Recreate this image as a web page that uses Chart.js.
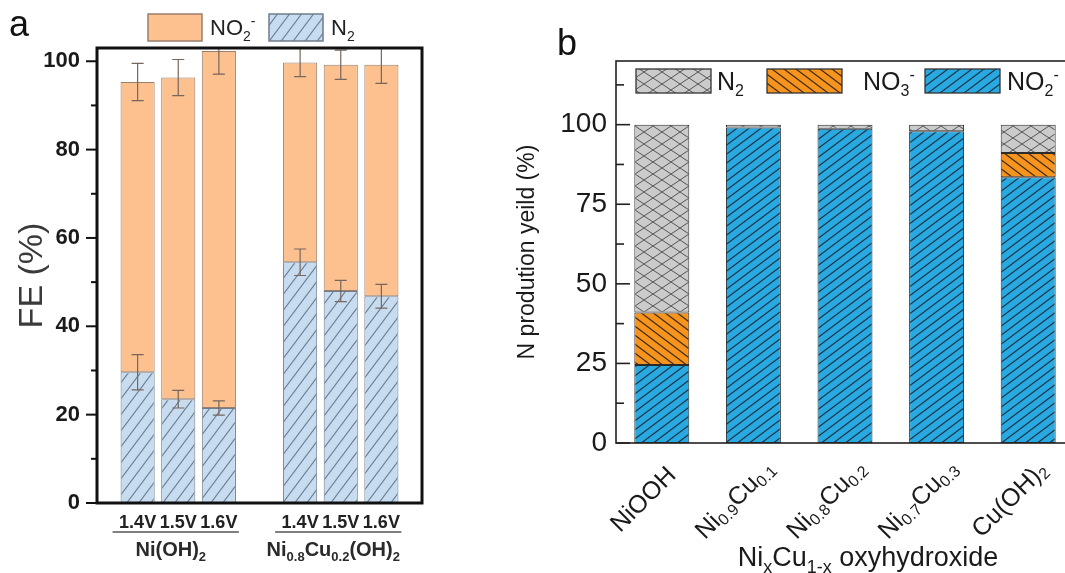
<!DOCTYPE html>
<html>
<head>
<meta charset="utf-8">
<script src="https://cdn.jsdelivr.net/npm/chart.js@4.4.0/dist/chart.umd.min.js"></script>
<style>
  html, body { margin: 0; padding: 0; background: #fff; width: 1065px; height: 573px; overflow: hidden; }
  #wrapA { position: absolute; left: 0; top: 0; width: 500px; height: 573px; }
  #wrapB { position: absolute; left: 500px; top: 0; width: 590px; height: 573px; }
  .panel { position: absolute; font-family: "Liberation Sans", Arial, sans-serif; font-size: 36px; color: #111; line-height: 1; }
</style>
</head>
<body>
<div id="wrapA"><canvas id="chartA" width="500" height="573"></canvas></div>
<div id="wrapB"><canvas id="chartB" width="590" height="573"></canvas></div>
<div class="panel" style="left:9px; top:6px;">a</div>
<div class="panel" style="left:557px; top:25px;">b</div>
<script>
// ---- panel a data (FE %) ----
const aCategories = ['', '1.4V', '1.5V', '1.6V', '', '1.4V', '1.5V', '1.6V', ''];
const aGroupNames = ['Ni(OH){_2}', 'Ni{_0.8}Cu{_0.2}(OH){_2}'];
const aSeries = ['NO{_2}{^-}', 'N{_2}'];
const aN2 = [null, 29.6, 23.5, 21.5, null, 54.5, 48, 46.8, null];
const aN2Err = [null, 4, 2, 1.6, null, 3, 2.4, 2.7, null];
const aNO2 = [null, 65.7, 72.8, 80.8, null, 45.2, 51.2, 52.4, null];
const aTotalErr = [null, 4.2, 4.1, 5.2, null, 3.2, 3.3, 4.2, null];
const aYTicks = [0, 20, 40, 60, 80, 100];

// ---- panel b data (N production yield %) ----
const bCategories = ['NiOOH', 'Ni{_0.9}Cu{_0.1}', 'Ni{_0.8}Cu{_0.2}', 'Ni{_0.7}Cu{_0.3}', 'Cu(OH){_2}'];
const bSeries = ['N{_2}', 'NO{_3}{^-}', 'NO{_2}{^-}'];
const bNO2 = [24.5, 99.1, 98.7, 97.9, 83.5];
const bNO3 = [16.5, 0, 0, 0, 7.6];
const bN2 = [59, 0.9, 1.3, 2.1, 8.9];
const bYTicks = [0, 25, 50, 75, 100];

const FONT = '"Liberation Sans", Arial, sans-serif';
Chart.defaults.font.family = FONT;
Chart.defaults.animation = false;

// hatch fill: dir '/' , '\\' or 'x'
function hatch(bg, line, w, h, dir, lw) {
  const c = document.createElement('canvas');
  c.width = w; c.height = h;
  const g = c.getContext('2d');
  g.fillStyle = bg;
  g.fillRect(0, 0, w, h);
  g.strokeStyle = line;
  g.lineWidth = lw;
  const seg = (x0, y0, x1, y1) => { g.beginPath(); g.moveTo(x0, y0); g.lineTo(x1, y1); g.stroke(); };
  for (const ox of [-w, 0, w]) {
    if (dir === '/' || dir === 'x') seg(ox - w, 2 * h, ox + 2 * w, -h);
    if (dir === '\\' || dir === 'x') seg(ox - w, -h, ox + 2 * w, 2 * h);
  }
  return g.createPattern(c, 'repeat');
}

const aFillNO2 = '#fcc18e';
const aFillN2 = hatch('#c8dcf0', '#6b7e94', 12, 16, '/', 1.1);
const bFillNO2 = hatch('#28a9e1', '#1b3346', 12, 9, '/', 1.2);
const bFillNO3 = hatch('#f7941e', '#3b2a12', 12, 9, '\\', 1.2);
const bFillN2 = hatch('#cbcbcb', '#555555', 18, 12, 'x', 1);

// text with {_sub} and {^sup}
function richParts(s) {
  const out = [];
  const re = /\{([_^])([^}]*)\}|([^{]+)/g;
  let m;
  while ((m = re.exec(s))) out.push(m[3] ? { t: m[3], k: '' } : { t: m[2], k: m[1] });
  return out;
}
function drawRich(ctx, s, x, y, size, weight, align) {
  const parts = richParts(s);
  const fontOf = (p) => `${weight} ${p.k ? Math.round(size * 0.65) : size}px ${FONT}`;
  let total = 0;
  parts.forEach(p => { ctx.font = fontOf(p); total += ctx.measureText(p.t).width; });
  let cx = align === 'center' ? x - total / 2 : x;
  ctx.textAlign = 'left';
  parts.forEach(p => {
    ctx.font = fontOf(p);
    const dy = p.k === '_' ? size * 0.25 : p.k === '^' ? -size * 0.42 : 0;
    ctx.fillText(p.t, cx, y + dy);
    cx += ctx.measureText(p.t).width;
  });
}

function errBar(ctx, px, y, v, e) {
  const y0 = y.getPixelForValue(v - e), y1 = y.getPixelForValue(v + e);
  ctx.beginPath();
  ctx.moveTo(px, y0); ctx.lineTo(px, y1);
  ctx.moveTo(px - 6, y0); ctx.lineTo(px + 6, y0);
  ctx.moveTo(px - 6, y1); ctx.lineTo(px + 6, y1);
  ctx.stroke();
}

const panelA = {
  id: 'panelA',
  afterDatasetsDraw(chart) {
    const { ctx, chartArea: ca, scales: { x, y } } = chart;
    ctx.save();
    ctx.beginPath();
    ctx.rect(ca.left, ca.top, ca.width, ca.height);
    ctx.clip();
    ctx.strokeStyle = '#76665e';
    ctx.lineWidth = 1.2;
    aN2.forEach((v, i) => {
      if (v == null) return;
      const px = x.getPixelForValue(i);
      errBar(ctx, px, y, v, aN2Err[i]);
      errBar(ctx, px, y, v + aNO2[i], aTotalErr[i]);
    });
    ctx.restore();
  },
  afterDraw(chart) {
    const { ctx, chartArea: ca, scales: { x, y } } = chart;
    ctx.save();
    // ticks
    ctx.strokeStyle = '#111';
    ctx.lineWidth = 2;
    for (let v = 0; v <= 100; v += 10) {
      const py = y.getPixelForValue(v);
      const len = aYTicks.includes(v) ? 11 : 6;
      ctx.beginPath(); ctx.moveTo(ca.left - len, py); ctx.lineTo(ca.left, py); ctx.stroke();
    }
    // frame
    ctx.lineWidth = 3;
    ctx.strokeRect(ca.left, ca.top, ca.width, ca.height);
    // group lines + names
    const groups = [];
    aCategories.forEach((c, i) => {
      if (!c) return;
      if (i === 0 || !aCategories[i - 1]) groups.push([i, i]);
      else groups[groups.length - 1][1] = i;
    });
    ctx.strokeStyle = '#555';
    ctx.lineWidth = 1.5;
    ctx.fillStyle = '#2a2a2a';
    ctx.textBaseline = 'alphabetic';
    groups.forEach(([i0, i1], g) => {
      const xa = x.getPixelForValue(i0) - 25, xb = x.getPixelForValue(i1) + 20;
      ctx.beginPath(); ctx.moveTo(xa, 532); ctx.lineTo(xb, 532); ctx.stroke();
      drawRich(ctx, aGroupNames[g], (xa + xb) / 2 - 5, 556, 20, 'bold', 'center');
    });
    // legend
    const fills = [aFillNO2, aFillN2];
    const borders = ['#9a7e6c', '#6f7d8c'];
    aSeries.forEach((s, k) => {
      const bx = ca.left + 51 + k * 121;
      ctx.fillStyle = fills[k];
      ctx.fillRect(bx, 14, 54, 27);
      ctx.strokeStyle = borders[k];
      ctx.lineWidth = 1.5;
      ctx.strokeRect(bx, 14, 54, 27);
      ctx.fillStyle = '#222';
      drawRich(ctx, s, bx + 62, 35, 22, 'normal', 'left');
    });
    ctx.restore();
  }
};

new Chart(document.getElementById('chartA'), {
  type: 'bar',
  data: {
    labels: aCategories,
    datasets: [
      { label: 'N2', data: aN2, backgroundColor: aFillN2, borderColor: '#6f7d8c', borderWidth: 1, borderSkipped: false },
      { label: 'NO2-', data: aNO2, backgroundColor: aFillNO2, borderColor: '#9a7e6c', borderWidth: 1, borderSkipped: false }
    ]
  },
  options: {
    responsive: false,
    layout: { padding: { top: 48, right: 78, left: 0, bottom: 0 } },
    barPercentage: 0.84,
    categoryPercentage: 1,
    plugins: { legend: { display: false }, tooltip: { enabled: false } },
    scales: {
      x: {
        stacked: true,
        offset: false,
        grid: { display: false, drawTicks: false },
        border: { display: false },
        ticks: { color: '#222', font: { size: 18, weight: 'bold' }, padding: 9, maxRotation: 0, autoSkip: false },
        afterFit(s) { s.height = 70; }
      },
      y: {
        stacked: true,
        min: 0,
        max: 103,
        grid: { display: false, drawTicks: false },
        border: { display: false },
        ticks: {
          stepSize: 10,
          includeBounds: false,
          color: '#1a1a1a',
          padding: 17,
          font: { size: 22, weight: 'bold' },
          callback: v => aYTicks.includes(v) ? v : ''
        },
        title: { display: true, text: 'FE (%)', color: '#3a3a3a', font: { size: 34 }, padding: { top: 12 } },
        afterFit(s) { s.width = 97; }
      }
    }
  },
  plugins: [panelA]
});

const panelB = {
  id: 'panelB',
  afterDraw(chart) {
    const { ctx, chartArea: ca, scales: { x, y } } = chart;
    ctx.save();
    ctx.strokeStyle = '#222';
    ctx.lineWidth = 1.6;
    for (let v = 0; v <= 112.5; v += 12.5) {
      const py = y.getPixelForValue(v);
      const len = bYTicks.includes(v) ? 14 : 8;
      ctx.beginPath(); ctx.moveTo(ca.left, py); ctx.lineTo(ca.left + len, py); ctx.stroke();
    }
    ctx.strokeRect(ca.left, ca.top, ca.width, ca.height);
    // rotated category labels
    ctx.fillStyle = '#1a1a1a';
    ctx.textBaseline = 'middle';
    bCategories.forEach((c, i) => {
      const px = x.getPixelForValue(i) - 18;
      ctx.save();
      ctx.translate(px, 500);
      ctx.rotate(-Math.PI / 4);
      drawRich(ctx, c, 0, 0, 25, 'normal', 'center');
      ctx.restore();
    });
    ctx.textBaseline = 'alphabetic';
    drawRich(ctx, 'Ni{_x}Cu{_1-x} oxyhydroxide', ca.left + 252, 566, 27, 'normal', 'center');
    // legend
    const fills = [bFillN2, bFillNO3, bFillNO2];
    const boxX = [20, 151, 309];
    const textX = [101, 247, 391];
    bSeries.forEach((s, k) => {
      const bx = ca.left + boxX[k], by = ca.top + 8;
      ctx.fillStyle = fills[k];
      ctx.fillRect(bx, by, 75, 24);
      ctx.strokeStyle = '#333';
      ctx.lineWidth = 1.3;
      ctx.strokeRect(bx, by, 75, 24);
      ctx.fillStyle = '#1a1a1a';
      drawRich(ctx, s, ca.left + textX[k], by + 21, 25, 'normal', 'left');
    });
    ctx.restore();
  }
};

new Chart(document.getElementById('chartB'), {
  type: 'bar',
  data: {
    labels: bCategories,
    datasets: [
      { label: 'NO2-', data: bNO2, backgroundColor: bFillNO2, borderColor: '#2b2b2b', borderWidth: 1, borderSkipped: false },
      { label: 'NO3-', data: bNO3, backgroundColor: bFillNO3, borderColor: '#2b2b2b', borderWidth: 1, borderSkipped: false },
      { label: 'N2', data: bN2, backgroundColor: bFillN2, borderColor: '#2b2b2b', borderWidth: 1, borderSkipped: false }
    ]
  },
  options: {
    responsive: false,
    layout: { padding: { top: 61, right: 16, left: 0, bottom: 0 } },
    barPercentage: 0.6,
    categoryPercentage: 1,
    plugins: { legend: { display: false }, tooltip: { enabled: false } },
    scales: {
      x: {
        stacked: true,
        grid: { display: false, drawTicks: false },
        border: { display: false },
        ticks: { display: false },
        afterFit(s) { s.height = 130; }
      },
      y: {
        stacked: true,
        min: 0,
        max: 120,
        grid: { display: false, drawTicks: false },
        border: { display: false },
        ticks: {
          stepSize: 12.5,
          includeBounds: false,
          color: '#1a1a1a',
          padding: 9,
          font: { size: 28 },
          callback: v => bYTicks.includes(v) ? v : ''
        },
        title: { display: true, text: 'N prodution yeild (%)', color: '#1a1a1a', font: { size: 23 }, padding: { top: 14 } },
        afterFit(s) { s.width = 116; }
      }
    }
  },
  plugins: [panelB]
});
</script>
</body>
</html>
